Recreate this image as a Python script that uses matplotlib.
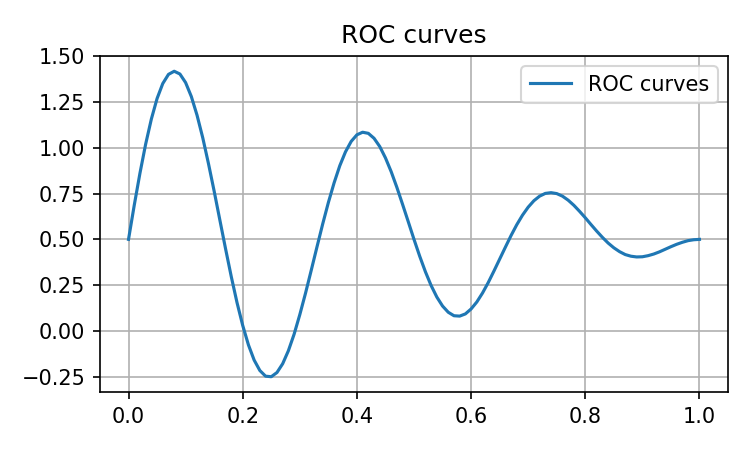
import matplotlib
matplotlib.use("Agg")
import matplotlib.pyplot as plt

x_vals = [i / 100 for i in range(101)]
y_vals = [
    0.500, 0.686, 0.861, 1.020, 1.157, 1.269, 1.351, 1.401, 1.418, 1.403,
    1.356, 1.280, 1.178, 1.055, 0.914, 0.763, 0.605, 0.448, 0.296, 0.155,
    0.030, -0.076, -0.159, -0.216, -0.247, -0.250, -0.227, -0.179, -0.108, -0.018,
    0.089, 0.206, 0.331, 0.458, 0.583, 0.701, 0.808, 0.902, 0.978, 1.035,
    1.071, 1.085, 1.079, 1.052, 1.007, 0.945, 0.870, 0.784, 0.691, 0.596,
    0.500, 0.408, 0.323, 0.248, 0.185, 0.136, 0.102, 0.083, 0.081, 0.093,
    0.120, 0.158, 0.207, 0.264, 0.327, 0.392, 0.457, 0.521, 0.580, 0.632,
    0.676, 0.711, 0.736, 0.751, 0.755, 0.750, 0.736, 0.714, 0.686, 0.653,
    0.618, 0.581, 0.545, 0.511, 0.480, 0.454, 0.433, 0.417, 0.408, 0.404,
    0.405, 0.411, 0.420, 0.432, 0.446, 0.460, 0.473, 0.484, 0.493, 0.498,
    0.500,
]

fig, ax = plt.subplots(figsize=(5, 3), dpi=150)
ax.plot(x_vals, y_vals, label="ROC curves")
ax.set_title("ROC curves")
ax.grid(True)
ax.legend(loc="upper right")
fig.subplots_adjust(left=0.1333, right=0.9707, top=0.8756, bottom=0.1289)
fig.savefig("out.png", dpi=150)
